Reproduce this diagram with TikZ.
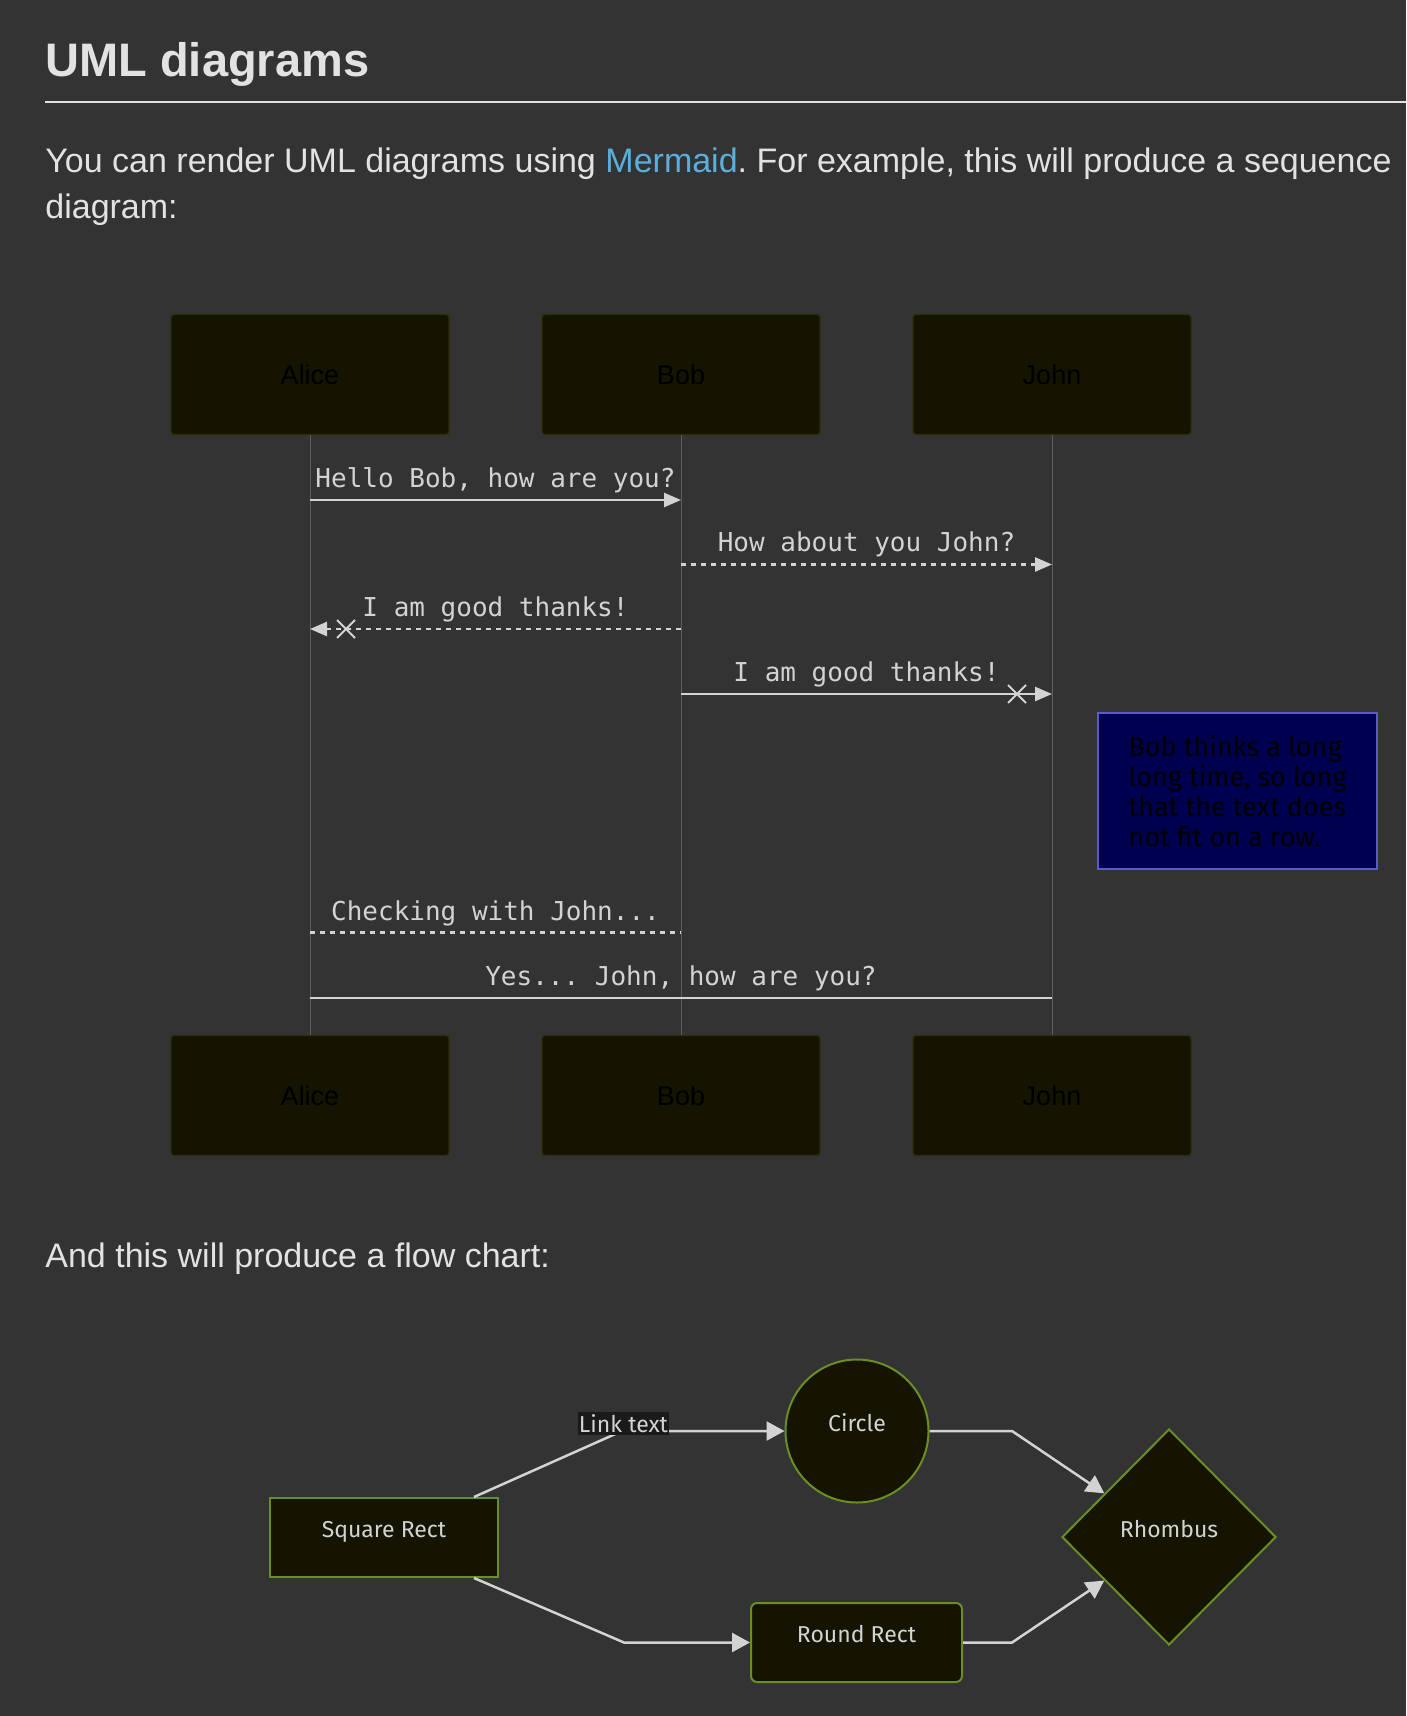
\documentclass[tikz,border=0pt]{standalone}
\usepackage{fontspec}
\setmainfont{Liberation Sans}
\newfontfamily\monofont{DejaVu Sans Mono}
\newfontfamily\flowfont{Fira Sans}
\usepackage{tikz}
\usepackage{xcolor}
\usetikzlibrary{shapes.geometric, shapes.misc, arrows.meta, positioning}
\frenchspacing
\definecolor{pagebg}{HTML}{333333}
\definecolor{pagetext}{HTML}{E2E2E2}
\definecolor{linkblue}{HTML}{5AAFDC}
\definecolor{actorfill}{HTML}{141400}
\definecolor{actorline}{HTML}{2E2E00}
\definecolor{msgline}{HTML}{D3D3D3}
\definecolor{lifegray}{HTML}{5E5E5E}
\definecolor{notefill}{HTML}{000050}
\definecolor{noteline}{HTML}{5A5ACD}
\definecolor{nodeborder}{HTML}{6B8E23}
\definecolor{labelbg}{HTML}{1A1A1A}
\tikzstyle{para} = [anchor=base west, inner sep=0, text=pagetext, font=\fontsize{17}{20}\selectfont]
\tikzstyle{actor} = [rectangle, rounded corners=1.5pt, draw=actorline, line width=0.6pt, fill=actorfill, 
minimum width=139pt, minimum height=60pt, text=black, font=\fontsize{13.5}{16}\selectfont]
\tikzstyle{msg} = [msgline, line width=1.25pt]
\tikzstyle{msgdash} = [msg, dash pattern=on 2.5pt off 2.5pt]
\tikzstyle{head} = [-{Triangle[length=8.5pt, width=7pt]}]
\tikzstyle{msgtext} = [text=msgline, font=\monofont\fontsize{13}{15}\selectfont, anchor=base, inner sep=0, yshift=6.25pt]
\tikzstyle{crossmark} = [cross out, draw=msgline, line width=1pt, minimum size=8pt, inner sep=0]
\tikzstyle{note} = [rectangle, draw=noteline, line width=1pt, fill=notefill, minimum width=139.5pt, 
minimum height=78pt, align=left, text=black, font=\flowfont\fontsize{13.5}{15}\selectfont]
\tikzstyle{flownode} = [draw=nodeborder, line width=1pt, fill=actorfill, text=msgline, inner sep=0, 
text height=6pt, text depth=6pt, font=\flowfont\fontsize{11.5}{14}\selectfont]
\tikzstyle{flowarrow} = [msgline, line width=1.25pt, -{Triangle[length=9pt, width=9.5pt]}]
\tikzstyle{linklabel} = [fill=labelbg, text=msgline, inner sep=0, minimum width=45.5pt, minimum height=11.5pt, 
font=\flowfont\fontsize{11.5}{14}\selectfont]

\begin{document}
\begin{tikzpicture}[x=0.5pt, y=-0.5pt]
    \fill[pagebg] (0,0) rectangle (1406,1716);
    \useasboundingbox (0,0) rectangle (1406,1716);

    % heading and text
    \node[para, font=\bfseries\fontsize{23.5}{28}\selectfont] (title) at (45,77) {UML diagrams};
    \draw[pagetext, line width=1pt] (45,102) -- (1406,102);
    \node[para] (intro) at (45,173) {You can render UML diagrams using \textcolor{linkblue}{Mermaid}. For example, this will produce a sequence};
    \node[para] (intro2) at (45,219) {diagram:};

    % sequence diagram
    \foreach \n/\x/\t in {alice/310/Alice, bob/681/Bob, john/1052/John} {
        \node[actor] (\n) at (\x,374.5) {\t};
        \node[actor] (\n-end) at (\x,1095.5) {\t};
        \draw[lifegray, line width=0.5pt] (\n.south) -- (\n-end.north);
    }
    \coordinate (m1) at (0,500);
    \coordinate (m2) at (0,564.5);
    \coordinate (m3) at (0,629);
    \coordinate (m4) at (0,694);
    \coordinate (m5) at (0,932.5);
    \coordinate (m6) at (0,998);

    \draw[msg, head] (alice |- m1) -- (bob |- m1) node[msgtext, midway] {Hello Bob, how are you?};
    \draw[msgdash, head] (bob |- m2) -- (john |- m2) node[msgtext, midway] {How about you John?};
    \draw[msgdash, head] (bob |- m3) -- (alice |- m3) node[msgtext, midway] {I am good thanks!};
    \node[crossmark] (x1) at (346,629) {};
    \draw[msg, head] (bob |- m4) -- (john |- m4) node[msgtext, midway] {I am good thanks!};
    \node[crossmark] (x2) at (1017,694) {};
    \node[note] (think) at (1237.5,791) {Bob thinks a long\\long time, so long\\that the text does\\not fit on a row.};
    \draw[msgdash] (alice |- m5) -- (bob |- m5) node[msgtext, midway] {Checking with John...};
    \draw[msg] (alice |- m6) -- (john |- m6) node[msgtext, midway] {Yes... John, how are you?};

    \node[para] (flowintro) at (45,1267) {And this will produce a flow chart:};

    % flow chart
    \node[flownode, rectangle, minimum width=114pt, minimum height=39.5pt] (sq) at (384,1537.5) {Square Rect};
    \node[flownode, circle, minimum size=71.5pt] (circ) at (857,1431) {Circle};
    \node[flownode, rectangle, rounded corners=3pt, minimum width=105.5pt, minimum height=39.5pt] (rr) at (856.5,1642.5) {Round Rect};
    \node[flownode, diamond, minimum width=107pt, minimum height=108pt] (rh) at (1169,1537) {Rhombus};

    \coordinate (k1) at (622,1431);
    \coordinate (k2) at (624,1642.5);
    \coordinate (k3) at (1012,1431);
    \coordinate (k4) at (1012,1642.5);
    \draw[flowarrow] ([xshift=-12.5pt]sq.north east) -- (k1) -- (circ);
    \node[linklabel] (lt) at (623.5,1423.5) {Link text};
    \draw[flowarrow] ([xshift=-12.5pt]sq.south east) -- (k2) -- (rr);
    \draw[flowarrow] (circ) -- (k3) -- (rh);
    \draw[flowarrow] (rr) -- (k4) -- (rh);
\end{tikzpicture}
\end{document}
